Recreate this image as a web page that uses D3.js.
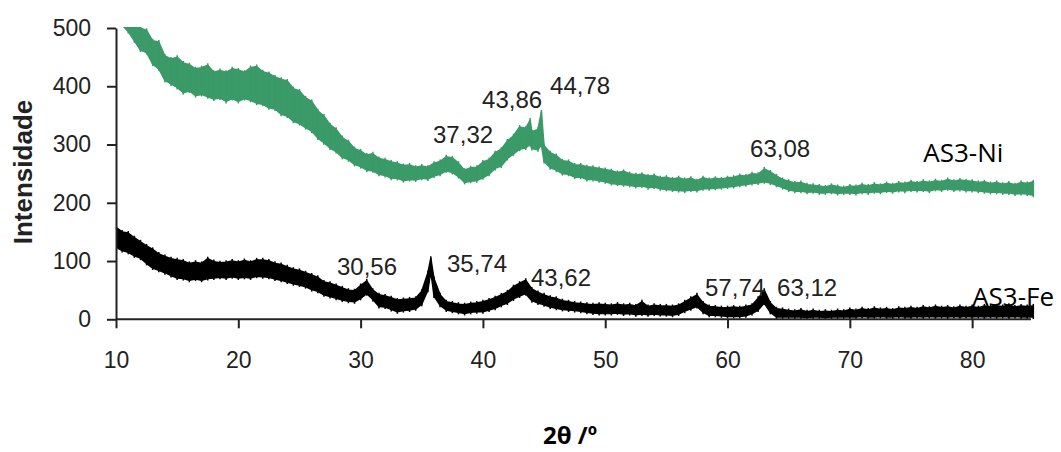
<!DOCTYPE html>
<html lang="pt">
<head>
  <meta charset="UTF-8">
  <title>DRX AS3-Ni / AS3-Fe</title>
  <script src="https://d3js.org/d3.v7.min.js"></script>
  <style>
    html, body { margin: 0; padding: 0; background: #fff; }
    svg text { font-family: "Liberation Sans", Arial, sans-serif; }
  </style>
</head>
<body>
  <svg id="chart" width="1061" height="452"></svg>

  <script>
    // AS3-Ni: angle, upper and lower edge of the noisy trace
    const niTheta = [10,10.5,11,11.5,12,12.5,13,13.5,14,14.5,
      15,15.5,16,16.5,17,17.5,18,18.5,19,19.5,
      20,20.5,21,21.5,22,22.5,23,23.5,24,24.5,
      25,25.5,26,26.5,27,27.5,28,28.5,29,29.5,
      30,30.5,31,31.5,32,32.5,33,33.5,34,34.5,
      35,35.5,36,36.5,37,37.5,38,38.5,39,39.5,
      40,40.5,41,41.5,42,42.5,43,43.5,43.86,44,44.5,44.78,
      45,45.5,46,46.5,47,47.5,48,48.5,49,49.5,
      50,50.5,51,51.5,52,52.5,53,53.5,54,54.5,
      55,55.5,56,56.5,57,57.5,58,58.5,59,59.5,
      60,60.5,61,61.5,62,62.5,63,63.5,64,64.5,
      65,65.5,66,66.5,67,67.5,68,68.5,69,69.5,
      70,70.5,71,71.5,72,72.5,73,73.5,74,74.5,
      75,75.5,76,76.5,77,77.5,78,78.5,79,79.5,
      80,80.5,81,81.5,82,82.5,83,83.5,84,84.5,85];
    const niHigh = [560,548,532,518,500,496,478,476,452,447,
      450,440,437,430,432,436,424,427,424,430,
      428,424,432,434,425,422,416,412,409,396,
      392,380,374,358,349,334,326,312,305,293,
      289,282,284,276,274,270,268,264,265,261,
      263,261,268,271,279,277,268,256,260,261,
      270,274,286,292,306,315,330,328,342,322,326,356,
      298,286,281,272,271,265,265,262,261,259,
      257,255,252,254,250,248,249,246,247,243,
      244,241,243,240,242,238,243,240,242,241,
      243,244,247,246,250,249,258,253,246,240,
      237,234,235,231,230,229,227,230,228,226,
      229,228,231,229,232,230,233,231,234,233,
      236,234,237,235,238,236,240,237,239,238,
      237,235,236,233,235,232,234,231,235,233,236];
    const niLow = [522,505,494,478,462,458,438,430,410,404,
      398,389,392,384,386,382,378,380,374,379,
      374,379,376,371,369,363,361,352,349,340,
      336,329,323,311,303,294,288,278,274,266,
      262,256,255,249,247,242,242,238,240,239,
      242,241,246,249,255,252,245,235,237,238,
      243,249,259,263,276,284,292,294,300,293,291,300,
      271,260,256,250,249,244,244,240,240,238,
      236,233,232,231,230,228,229,226,227,224,
      223,222,221,220,222,221,224,224,225,226,
      227,228,230,231,233,234,236,234,230,226,
      222,220,220,218,219,217,217,218,216,217,
      217,216,218,217,219,218,220,219,221,220,
      222,221,222,220,223,222,224,222,223,221,
      221,220,219,218,218,217,217,215,216,215,213];

    // AS3-Fe
    const feTheta = [10,10.5,11,11.5,12,12.5,13,13.5,14,14.5,
      15,15.5,16,16.5,17,17.5,18,18.5,19,19.5,
      20,20.5,21,21.5,22,22.5,23,23.5,24,24.5,
      25,25.5,26,26.5,27,27.5,28,28.5,29,29.5,
      30,30.5,31,31.5,32,32.5,33,33.5,34,34.5,
      35,35.5,35.74,36,36.5,37,37.5,38,38.5,39,39.5,
      40,40.5,41,41.5,42,42.5,43,43.5,44,44.5,
      45,45.5,46,46.5,47,47.5,48,48.5,49,49.5,
      50,50.5,51,51.5,52,52.5,53,53.5,54,54.5,
      55,55.5,56,56.5,57,57.5,58,58.5,59,59.5,
      60,60.5,61,61.5,62,62.5,63,63.5,64,64.5,
      65,65.5,66,66.5,67,67.5,68,68.5,69,69.5,
      70,70.5,71,71.5,72,72.5,73,73.5,74,74.5,
      75,75.5,76,76.5,77,77.5,78,78.5,79,79.5,
      80,80.5,81,81.5,82,82.5,83,83.5,84,84.5,85];
    const feHigh = [158,150,148,140,133,126,120,112,108,104,
      102,100,96,98,96,104,99,97,98,100,
      98,101,98,102,102,100,96,94,90,86,
      84,80,76,72,64,62,58,54,50,49,
      58,66,50,42,40,37,33,34,35,36,
      48,80,105,70,42,30,28,26,25,27,28,
      30,33,37,42,47,56,62,67,52,46,
      42,38,36,32,30,28,27,26,25,26,
      25,24,26,24,25,23,30,22,24,23,
      23,22,24,30,36,42,28,22,21,20,
      20,21,20,22,24,36,50,28,18,17,
      15,14,16,13,15,13,14,13,15,14,
      17,15,18,16,19,17,18,16,19,18,
      20,18,21,19,22,20,21,19,22,20,
      22,20,23,21,23,22,24,21,23,22,23];
    const feLow = [124,118,115,109,105,96,88,84,80,75,
      71,70,67,69,67,70,71,72,71,73,
      71,72,71,74,73,72,69,67,64,61,
      59,56,51,48,42,39,36,33,31,30,
      36,44,34,22,21,17,13,15,16,18,
      26,50,82,40,24,16,14,12,10,12,13,
      13,16,19,24,28,35,40,44,32,28,
      25,21,19,17,16,15,14,12,11,10,
      10,10,11,9,10,8,9,8,9,8,
      8,7,9,14,18,22,12,7,7,6,
      5,5,5,6,10,16,28,12,4,4,
      4,4,4,3,4,4,3,4,4,4,
      4,4,5,4,4,5,4,4,5,4,
      4,5,4,5,4,5,4,5,4,5,
      4,5,4,5,4,5,4,5,4,4,4];

    // peak labels: text and where it sits (angle, intensity of the label baseline)
    const niPeakText = ["37,32", "43,86", "44,78", "63,08"];
    const niPeakTheta = [35.92, 39.93, 45.49, 61.84];
    const niPeakI = [302, 363, 387, 279];
    const fePeakText = ["30,56", "35,74", "43,62", "57,74", "63,12"];
    const fePeakTheta = [28.07, 37.06, 43.93, 58.16, 64.05];
    const fePeakI = [76, 81, 57, 40, 40];

    const xTicks = [10, 20, 30, 40, 50, 60, 70, 80];
    const yTicks = [0, 100, 200, 300, 400, 500];

    const svg = d3.select("#chart");
    svg.append("rect").attr("width", 1061).attr("height", 452).attr("fill", "#fff");

    const x = d3.scaleLinear().domain([10, 85]).range([116, 1033.3]);
    const y = d3.scaleLinear().domain([0, 500]).range([319.3, 28]);

    svg.append("clipPath").attr("id", "plot")
      .append("rect").attr("x", 116).attr("y", 27).attr("width", 920).attr("height", 295);

    // noisy trace drawn as a filled band between its lower and upper edges
    function band(theta, hi, lo, color) {
      const pts = theta.map((t, i) => ({ t: t, hi: hi[i], lo: lo[i] }));
      const area = d3.area()
        .x(d => x(d.t))
        .y0(d => y(d.lo))
        .y1(d => y(d.hi));
      const g = svg.append("g").attr("clip-path", "url(#plot)");
      g.append("path")
        .datum(pts)
        .attr("d", area)
        .attr("fill", color)
        .attr("stroke", color)
        .attr("stroke-width", 1.5)
        .attr("stroke-linejoin", "bevel");
      // thin spikes at every sample
      g.selectAll("line")
        .data(pts)
        .join("line")
        .attr("x1", d => x(d.t)).attr("x2", d => x(d.t))
        .attr("y1", d => y(d.hi) - 2).attr("y2", d => y(d.lo) + 2)
        .attr("stroke", color)
        .attr("stroke-width", 1.5);
    }

    band(niTheta, niHigh, niLow, "#3a9a68");
    band(feTheta, feHigh, feLow, "#000");

    // axes
    const yAxis = svg.append("g")
      .attr("transform", "translate(116,0)")
      .call(d3.axisLeft(y).tickValues(yTicks).tickSize(9).tickSizeOuter(0).tickPadding(16));
    const xAxis = svg.append("g")
      .attr("transform", "translate(0,319.3)")
      .call(d3.axisBottom(x).tickValues(xTicks).tickSize(9).tickSizeOuter(0).tickPadding(23));
    xAxis.select(".domain").attr("d", "M116,0H1031");

    [xAxis, yAxis].forEach(g => {
      g.selectAll("path, line").attr("stroke", "#222").attr("stroke-width", 2);
      g.selectAll("text")
        .attr("font-family", "Liberation Sans, Arial, sans-serif")
        .attr("font-size", 23)
        .attr("fill", "#222");
    });

    // peak annotations
    function peakLabels(txt, th, iv) {
      svg.append("g").selectAll("text")
        .data(txt)
        .join("text")
        .attr("x", (d, i) => x(th[i]))
        .attr("y", (d, i) => y(iv[i]))
        .attr("font-size", 24)
        .attr("fill", "#222")
        .text(d => d);
    }
    peakLabels(niPeakText, niPeakTheta, niPeakI);
    peakLabels(fePeakText, fePeakTheta, fePeakI);

    // series names
    svg.append("text").attr("x", x(76)).attr("y", y(270))
      .style("font-family", "'Open Sans', sans-serif").attr("font-size", 26).attr("fill", "#000")
      .text("AS3-Ni");
    svg.append("text").attr("x", x(80)).attr("y", y(23))
      .style("font-family", "'Open Sans', sans-serif").attr("font-size", 26).attr("fill", "#000")
      .text("AS3-Fe");

    // axis titles
    svg.append("text")
      .attr("transform", "translate(32,172) rotate(-90)")
      .attr("text-anchor", "middle")
      .attr("font-size", 26)
      .attr("font-weight", "bold")
      .attr("fill", "#222")
      .text("Intensidade");
    svg.append("text")
      .attr("x", 570).attr("y", 444)
      .attr("text-anchor", "middle")
      .style("font-family", "'Open Sans', sans-serif")
      .attr("font-size", 24)
      .attr("font-weight", "bold")
      .attr("fill", "#000")
      .text("2θ /º");
  </script>
</body>
</html>
